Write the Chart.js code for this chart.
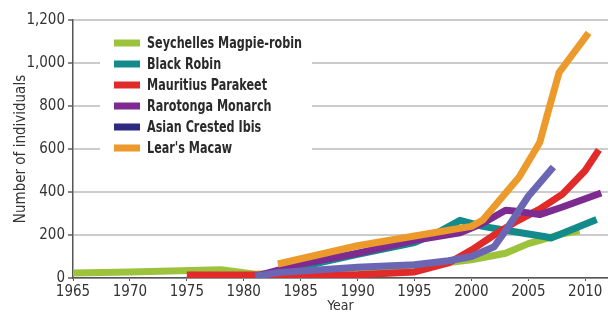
<!DOCTYPE html>
<html><head><meta charset="utf-8">
<script src="https://cdn.jsdelivr.net/npm/chart.js@4.4.1/dist/chart.umd.min.js"></script>
<style>html,body{margin:0;padding:0;background:#fff;overflow:hidden}</style>
</head><body>
<canvas id="c" width="608" height="313"></canvas>
<script>
// ---- data ----
const seriesNames = ["Seychelles Magpie-robin","Black Robin","Mauritius Parakeet","Rarotonga Monarch","Asian Crested Ibis","Lear's Macaw"];
const seychellesYears  = [1965, 1970, 1978, 1981, 1990, 1998, 2000, 2003, 2005, 2008, 2009.5];
const seychellesValues = [23, 28, 38, 18, 40, 72, 85, 115, 160, 205, 220];
const blackRobinYears  = [1981, 1990, 1995, 1997, 1999, 2001, 2003, 2006.5, 2007, 2011];
const blackRobinValues = [5, 110, 165, 210, 268, 240, 222, 192, 186, 272];
const parakeetYears    = [1975, 1981, 1990, 1995, 1998, 2000, 2002, 2004, 2006, 2008, 2010, 2011.2];
const parakeetValues   = [14, 14, 15, 28, 70, 130, 200, 265, 320, 390, 500, 596];
const monarchYears     = [1981, 1985, 1990, 1995, 1999, 2001, 2003, 2004, 2006, 2008, 2011.4];
const monarchValues    = [8, 65, 115, 175, 210, 255, 315, 310, 295, 330, 395];
const ibisYears        = [1981, 1983, 1990, 1995, 1998, 2000, 2002, 2003, 2005, 2007.2];
const ibisValues       = [8, 25, 50, 62, 80, 100, 145, 220, 380, 516];
const macawYears       = [1983, 1990, 1995, 2000, 2001, 2004.2, 2006, 2006.8, 2007.7, 2008.6, 2010.3];
const macawValues      = [65, 150, 195, 240, 270, 470, 630, 785, 955, 1020, 1140];
const xTickLabels = [1965, 1970, 1975, 1980, 1985, 1990, 1995, 2000, 2005, 2010];
const yTickLabels = [0, 200, 400, 600, 800, 1000, 1200];

// ---- styles ----
const lineColors   = ["#9dc23c", "#128b8a", "#e12b2b", "#7d2b90", "#6b66b3", "#ec9a2c"];
const legendColors = ["#9dc23c", "#128b8a", "#e12b2b", "#7d2b90", "#2d2a82", "#ec9a2c"];
const drawOrder    = [5, 4, 3, 2, 1, 0];
const FONT = '"Liberation Sans Narrow", "DejaVu Sans Condensed", "Liberation Sans", sans-serif';

const pairs = (xs, ys) => xs.map((x, i) => ({x: x, y: ys[i]}));
const seriesData = [
  pairs(seychellesYears, seychellesValues),
  pairs(blackRobinYears, blackRobinValues),
  pairs(parakeetYears, parakeetValues),
  pairs(monarchYears, monarchValues),
  pairs(ibisYears, ibisValues),
  pairs(macawYears, macawValues)
];

const legendPlugin = {
  id: 'insideLegend',
  afterDraw(chart) {
    const ctx = chart.ctx;
    ctx.save();
    ctx.fillStyle = '#ffffff';
    ctx.fillRect(100, 25, 212, 158);
    ctx.font = 'bold 15px ' + FONT;
    ctx.textBaseline = 'middle';
    ctx.textAlign = 'left';
    const squeeze = 155 / ctx.measureText(seriesNames[0]).width;
    const rows = [43, 64, 85, 106, 127, 148];
    seriesNames.forEach((name, i) => {
      ctx.fillStyle = legendColors[i];
      ctx.fillRect(114, rows[i] - 3.5, 26, 7);
      ctx.fillStyle = '#2a2a2a';
      const w = ctx.measureText(name).width * Math.min(1, squeeze);
      ctx.fillText(name, 147, rows[i] + 1, w);
    });
    ctx.restore();
  }
};

new Chart(document.getElementById('c'), {
  type: 'line',
  data: {
    datasets: seriesData.map((d, i) => ({
      label: seriesNames[i],
      data: d,
      borderColor: lineColors[i],
      backgroundColor: legendColors[i],
      borderWidth: 7,
      pointRadius: 0,
      tension: 0,
      fill: false,
      order: drawOrder[i],
      borderJoinStyle: 'round',
      borderCapStyle: 'butt'
    }))
  },
  options: {
    responsive: false,
    devicePixelRatio: 1,
    animation: false,
    layout: {padding: {top: 20, right: 0, left: 0, bottom: 0}},
    plugins: {legend: {display: false}, tooltip: {enabled: false}},
    scales: {
      x: {
        type: 'linear',
        min: 1965,
        max: 2012,
        afterBuildTicks: s => { s.ticks = xTickLabels.map(v => ({value: v})); },
        afterFit: s => { s.height = 35; },
        ticks: {font: {family: FONT, size: 15}, color: '#333', padding: 2, maxRotation: 0, autoSkip: false, callback: v => String(v)},
        grid: {drawOnChartArea: false, tickLength: 3, color: '#555'},
        border: {color: '#555', width: 1.5},
        title: {display: true, text: 'Year', font: {family: FONT, size: 14}, color: '#333', padding: {top: 0, bottom: -2}}
      },
      y: {
        min: 0,
        max: 1200,
        afterBuildTicks: s => { s.ticks = yTickLabels.map(v => ({value: v})); },
        afterFit: s => { s.width = 73; },
        ticks: {font: {family: FONT, size: 15}, color: '#333', padding: 3, callback: v => v.toLocaleString('en-US')},
        grid: {color: '#cccccc', lineWidth: 2, tickLength: 5, tickColor: '#888'},
        border: {color: '#555', width: 1.5},
        title: {display: true, text: 'Number of individuals', font: {family: FONT, size: 15}, color: '#333', padding: {top: 12, bottom: 0}}
      }
    }
  },
  plugins: [legendPlugin]
});
</script>
</body></html>
